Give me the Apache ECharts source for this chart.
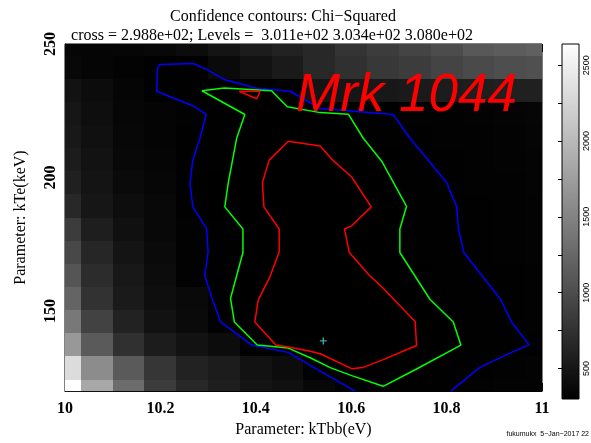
<!DOCTYPE html>
<html>
<head>
<meta charset="utf-8">
<script src="https://cdn.jsdelivr.net/npm/echarts@6/dist/echarts.min.js"></script>
<style>
html, body { margin: 0; padding: 0; background: #ffffff; }
#chart { width: 591px; height: 443px; }
</style>
</head>
<body>
<div id="chart"></div>
<script>
// Steppar grid of the two fit parameters
const kTbbGrid = [10, 10.0667, 10.1333, 10.2, 10.2667, 10.3333, 10.4, 10.4667,
                  10.5333, 10.6, 10.6667, 10.7333, 10.8, 10.8667, 10.9333, 11];
const kTeGrid = [120, 128.67, 137.33, 146, 154.67, 163.33, 172, 180.67,
                 189.33, 198, 206.67, 215.33, 224, 232.67, 241.33, 250];

// Chi-squared at each grid point, one row per kTe step (bottom row first)
const chiSqRows = [
  [2640, 1841, 1290, 850, 666, 574, 482, 446, 360, 308, 304, 303.5, 308, 315, 322, 330],
  [2318, 1584, 1125, 794, 611, 556, 464, 409, 305, 302, 300.8, 303, 306, 309, 316, 324],
  [1694, 1125, 740, 556, 464, 409, 303.5, 300.5, 299.5, 299.2, 299.5, 300.8, 302.5, 305, 307, 310],
  [1400, 905, 611, 464, 391, 307, 301, 299.8, 299.4, 299.3, 299.8, 301, 302.6, 305, 308.5, 315],
  [1217, 758, 537, 427, 380, 304, 301, 300, 299.7, 300, 300.8, 302.5, 305, 307, 312, 320],
  [1079, 703, 519, 409, 318, 304.5, 302, 300.5, 300.2, 300.4, 301.8, 303, 305.5, 307.5, 312, 320],
  [960, 648, 482, 391, 318, 305, 302, 300.8, 300.5, 301.1, 302.3, 304, 306.5, 310, 316, 325],
  [850, 574, 446, 372, 320, 305, 302, 300.8, 300.6, 301.2, 302.5, 304, 306.8, 311, 318, 328],
  [666, 501, 418, 372, 308, 303, 301.2, 300.5, 300.3, 300.6, 301.3, 303.6, 306.5, 312, 320, 330],
  [593, 482, 391, 354, 307.5, 303.3, 301.3, 300.5, 300.6, 301, 302.5, 305, 308, 313, 321, 332],
  [556, 464, 372, 345, 309, 304, 301.8, 300.6, 300.8, 302, 303.1, 306, 310, 316, 325, 336],
  [519, 446, 363, 336, 310, 304.5, 302, 301.2, 301.3, 302.7, 304.5, 308.5, 313, 320, 330, 342],
  [501, 427, 354, 336, 315, 306, 302.8, 302, 302.5, 304, 308, 313, 318, 326, 336, 350],
  [464, 409, 345, 309, 305, 302.5, 300.9, 307, 482, 501, 519, 537, 556, 574, 593, 593],
  [372, 345, 326, 306, 307, 390, 464, 537, 666, 740, 813, 850, 923, 978, 1015, 1033],
  [354, 345, 354, 372, 409, 482, 556, 611, 666, 776, 850, 923, 996, 1107, 1143, 1180]
];

// Contour polylines [kTbb, kTe]
const contour3080 = [
  [10.608, 120.0], [10.514, 129.6], [10.468, 134.5], [10.391, 137.3], [10.326, 145.9],
  [10.308, 155.0], [10.293, 163.2], [10.300, 172.1], [10.297, 180.7], [10.268, 189.0],
  [10.262, 197.7], [10.268, 206.5], [10.283, 214.8], [10.296, 223.6], [10.269, 226.8],
  [10.192, 232.3], [10.194, 241.1], [10.199, 242.3], [10.268, 242.7], [10.297, 240.5],
  [10.335, 236.6], [10.402, 233.4], [10.472, 232.3], [10.535, 225.8], [10.688, 223.6],
  [10.723, 214.8], [10.800, 198.1], [10.821, 189.2], [10.825, 180.7], [10.836, 171.9],
  [10.913, 154.4], [10.936, 145.9], [10.973, 137.3], [10.936, 134.5], [10.869, 128.8],
  [10.809, 120.0]
];
const contour3034 = [
  [10.287, 232.5], [10.334, 233.5], [10.433, 232.5], [10.466, 226.5], [10.535, 224.3],
  [10.594, 223.7], [10.625, 214.8], [10.664, 206.1], [10.716, 189.2], [10.702, 180.7],
  [10.702, 171.9], [10.765, 154.4], [10.814, 145.9], [10.830, 137.2], [10.734, 128.0],
  [10.667, 121.8], [10.601, 125.8], [10.556, 128.8], [10.514, 132.5], [10.468, 136.1],
  [10.403, 137.3], [10.355, 145.9], [10.347, 154.7], [10.373, 171.9], [10.373, 180.7],
  [10.335, 189.0], [10.342, 197.7], [10.360, 214.8], [10.377, 223.6], [10.287, 232.5]
];
const contour3011 = [
  [10.468, 213.6], [10.535, 211.8], [10.559, 206.9], [10.601, 200.2], [10.642, 189.0],
  [10.601, 181.9], [10.586, 180.7], [10.596, 171.9], [10.637, 163.6], [10.667, 158.5],
  [10.734, 146.1], [10.737, 137.1], [10.667, 131.8], [10.624, 128.8], [10.601, 128.4],
  [10.535, 134.0], [10.514, 134.9], [10.468, 136.5], [10.442, 137.3], [10.398, 145.9],
  [10.405, 154.1], [10.430, 163.0], [10.449, 172.1], [10.449, 180.7], [10.417, 189.0],
  [10.414, 198.1], [10.428, 206.5], [10.468, 213.6]
];
const contour3011Island = [
  [10.365, 232.3], [10.409, 232.3], [10.402, 229.5], [10.365, 232.3]
];

// Best-fit position
const bestFit = [[10.5415, 138.8]];

// Axis ticks and colour scale
const kTeLabels = [150, 200, 250];
const wedgeRange = [298.8, 2640];
const wedgeLabels = [500, 1000, 1500, 2000, 2500];
const wedgeTicks = [500, 750, 1000, 1250, 1500, 1750, 2000, 2250, 2500];

const cells = [];
chiSqRows.forEach(function (row, i) {
  row.forEach(function (v, j) {
    cells.push([kTbbGrid[j], kTeGrid[i], v]);
  });
});
const stepX = kTbbGrid[1] - kTbbGrid[0];
const stepY = kTeGrid[1] - kTeGrid[0];

function renderCell(params, api) {
  const x = api.value(0), y = api.value(1);
  const p0 = api.coord([x - stepX / 2, y + stepY / 2]);
  const p1 = api.coord([x + stepX / 2, y - stepY / 2]);
  const x0 = Math.round(p0[0]), x1 = Math.round(p1[0]);
  const y0 = Math.round(p0[1]), y1 = Math.round(p1[1]);
  const cs = params.coordSys;
  const shape = echarts.graphic.clipRectByRect(
    { x: x0, y: y0, width: x1 - x0, height: y1 - y0 },
    { x: cs.x, y: cs.y, width: cs.width, height: cs.height }
  );
  if (!shape) return null;
  return { type: 'rect', shape: shape, style: { fill: api.visual('color') } };
}

function renderWedge(params, api) {
  const lo = api.coord([0, api.value(1)]);
  const hi = api.coord([1, api.value(2)]);
  return {
    type: 'rect',
    shape: { x: lo[0], y: hi[1], width: hi[0] - lo[0], height: lo[1] - hi[1] },
    style: {
      fill: new echarts.graphic.LinearGradient(0, 1, 0, 0, [
        { offset: 0, color: '#000000' },
        { offset: 1, color: '#ffffff' }
      ]),
      stroke: '#000000',
      lineWidth: 1
    }
  };
}

const serif = '"Liberation Serif", "Times New Roman", serif';
const sans = '"Liberation Sans", Arial, sans-serif';

const tickFont = { fontFamily: serif, fontSize: 16, fontWeight: 'bold', color: '#000' };

const chart = echarts.init(document.getElementById('chart'), null, { renderer: 'canvas' });
chart.setOption({
  animation: false,
  backgroundColor: '#ffffff',
  title: [
    {
      text: 'Confidence contours: Chi\u2212Squared',
      left: 278, top: 4, textAlign: 'center',
      textStyle: { fontFamily: serif, fontSize: 16, fontWeight: 'normal', color: '#000' }
    },
    {
      text: 'cross = 2.988e+02; Levels =  3.011e+02 3.034e+02 3.080e+02',
      left: 267, top: 23, textAlign: 'center',
      textStyle: { fontFamily: serif, fontSize: 16, fontWeight: 'normal', color: '#000' }
    }
  ],
  graphic: [
    {
      type: 'text', left: 296, top: 70, z: 100,
      style: { text: 'Mrk 1044', font: 'italic 53px ' + sans, fill: '#ff0000' }
    },
    {
      type: 'text', right: 2, top: 431,
      style: { text: 'fukumukx  5\u2212Jan\u22122017 22', font: '7px ' + sans, fill: '#000' }
    }
  ],
  grid: [
    { left: 65, top: 44, width: 477, height: 355, show: true, borderColor: '#000', borderWidth: 1, backgroundColor: '#000' },
    { left: 562, top: 44, width: 18, height: 355, show: false }
  ],
  visualMap: {
    show: false, type: 'continuous', seriesIndex: 0, dimension: 2,
    min: wedgeRange[0], max: wedgeRange[1],
    inRange: { color: ['#000000', '#ffffff'] }
  },
  xAxis: [
    {
      type: 'value', gridIndex: 0, min: 10, max: 11, interval: 0.2,
      name: 'Parameter: kTbb(eV)', nameLocation: 'middle', nameGap: 24,
      nameTextStyle: { fontFamily: serif, fontSize: 16, color: '#000' },
      axisLine: { show: true, onZero: false, lineStyle: { color: '#000', width: 1 } },
      axisTick: { show: true, inside: true, length: 8, lineStyle: { color: '#000' } },
      minorTick: { show: true, splitNumber: 2, length: 4, lineStyle: { color: '#000' } },
      axisLabel: Object.assign({ margin: 10, formatter: function (v) { return String(+v.toFixed(1)); } }, tickFont),
      splitLine: { show: false }
    },
    {
      type: 'value', gridIndex: 0, position: 'top', min: 10, max: 11, interval: 0.2,
      axisLine: { show: false },
      axisTick: { show: true, inside: true, length: 8, lineStyle: { color: '#000' } },
      minorTick: { show: true, splitNumber: 2, length: 4, lineStyle: { color: '#000' } },
      axisLabel: { show: false }, splitLine: { show: false }
    },
    {
      type: 'value', gridIndex: 1, min: 0, max: 1, show: false
    }
  ],
  yAxis: [
    {
      type: 'value', gridIndex: 0, position: 'left', min: 120, max: 250,
      name: 'Parameter: kTe(keV)', nameLocation: 'middle', nameGap: 36,
      nameTextStyle: { fontFamily: serif, fontSize: 16, color: '#000' },
      axisLine: { show: true, onZero: false, lineStyle: { color: '#000', width: 1 } },
      axisTick: { show: true, inside: true, length: 8, customValues: kTeLabels, lineStyle: { color: '#000' } },
      axisLabel: Object.assign({ margin: 6, rotate: 90, customValues: kTeLabels }, tickFont),
      splitLine: { show: false }
    },
    {
      type: 'value', gridIndex: 0, position: 'left', min: 120, max: 250, interval: 10,
      axisLine: { show: false },
      axisTick: { show: true, inside: true, length: 4, lineStyle: { color: '#000' } },
      axisLabel: { show: false }, splitLine: { show: false }
    },
    {
      type: 'value', gridIndex: 0, position: 'right', min: 120, max: 250,
      axisLine: { show: false },
      axisTick: { show: true, inside: true, length: 8, customValues: kTeLabels, lineStyle: { color: '#000' } },
      axisLabel: { show: false }, splitLine: { show: false }
    },
    {
      type: 'value', gridIndex: 0, position: 'right', min: 120, max: 250, interval: 10,
      axisLine: { show: false },
      axisTick: { show: true, inside: true, length: 4, lineStyle: { color: '#000' } },
      axisLabel: { show: false }, splitLine: { show: false }
    },
    {
      type: 'value', gridIndex: 1, position: 'right', min: wedgeRange[0], max: wedgeRange[1],
      axisLine: { show: false },
      axisTick: { show: true, inside: true, length: 4, customValues: wedgeTicks, lineStyle: { color: '#000' } },
      axisLabel: { show: true, customValues: wedgeLabels, rotate: 90, margin: 3,
                   formatter: function (v) { return String(v); },
                   fontFamily: sans, fontSize: 9, color: '#000' },
      splitLine: { show: false }
    },
    {
      type: 'value', gridIndex: 1, position: 'left', min: wedgeRange[0], max: wedgeRange[1],
      axisLine: { show: false },
      axisTick: { show: true, inside: true, length: 4, customValues: wedgeTicks, lineStyle: { color: '#000' } },
      axisLabel: { show: false }, splitLine: { show: false }
    }
  ],
  series: [
    {
      type: 'custom', xAxisIndex: 0, yAxisIndex: 0, renderItem: renderCell,
      data: cells, encode: { x: 0, y: 1 }, z: 1, silent: true
    },
    {
      type: 'line', xAxisIndex: 0, yAxisIndex: 0, data: contour3080, symbol: 'none',
      lineStyle: { color: '#0000ff', width: 1.5 }, z: 5, clip: true
    },
    {
      type: 'line', xAxisIndex: 0, yAxisIndex: 0, data: contour3034, symbol: 'none',
      lineStyle: { color: '#00ff00', width: 1.5 }, z: 5, clip: true
    },
    {
      type: 'line', xAxisIndex: 0, yAxisIndex: 0, data: contour3011, symbol: 'none',
      lineStyle: { color: '#ff0000', width: 1.5 }, z: 5, clip: true
    },
    {
      type: 'line', xAxisIndex: 0, yAxisIndex: 0, data: contour3011Island, symbol: 'none',
      lineStyle: { color: '#ff0000', width: 1.5 }, z: 5, clip: true
    },
    {
      type: 'scatter', xAxisIndex: 0, yAxisIndex: 0, data: bestFit,
      symbol: 'path://M4,0H6V10H4ZM0,4H10V6H0Z', symbolSize: 7,
      itemStyle: { color: '#40d0d0' }, z: 6
    },
    {
      type: 'custom', xAxisIndex: 2, yAxisIndex: 4, renderItem: renderWedge,
      data: [[0, wedgeRange[0], wedgeRange[1]]], z: 1, silent: true
    }
  ]
});
</script>
</body>
</html>
